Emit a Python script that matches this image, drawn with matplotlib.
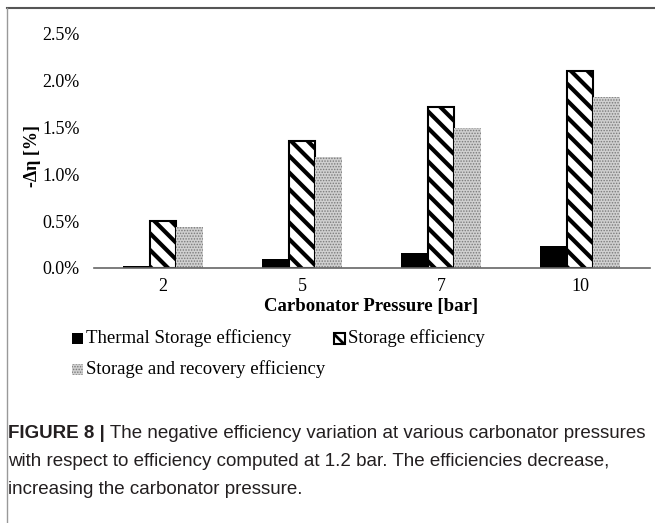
import matplotlib.pyplot as plt
from matplotlib.patches import Rectangle
from matplotlib.lines import Line2D
import numpy as np

pressures = ["2", "5", "7", "10"]
thermal = [0.02, 0.10, 0.16, 0.24]
storage = [0.50, 1.36, 1.72, 2.10]
recovery = [0.44, 1.19, 1.50, 1.83]
yticks = [0.0, 0.5, 1.0, 1.5, 2.0, 2.5]
series_names = ["Thermal Storage efficiency", "Storage efficiency",
                "Storage and recovery efficiency"]
caption_bold = "FIGURE 8 |"
caption_lines = [" The negative efficiency variation at various carbonator pressures",
                 "with respect to efficiency computed at 1.2 bar. The efficiencies decrease,",
                 "increasing the carbonator pressure."]

W, H = 655, 523
plt.rcParams['font.family'] = ['Liberation Serif', 'DejaVu Serif']
fig = plt.figure(figsize=(W / 100, H / 100), dpi=100)
ax = fig.add_axes([93.5 / W, 1 - 268 / H, 556 / W, 234 / H])

x = np.arange(len(pressures))
bw = 0.19
ax.bar(x - bw, thermal, bw, color='black', linewidth=0)

plt.rcParams['hatch.linewidth'] = 3.0
ax.bar(x, storage, bw, facecolor='white', edgecolor='black', linewidth=1.5,
       hatch='\\\\')
plt.rcParams['hatch.linewidth'] = 0.7
ax.bar(x + bw, recovery, bw, facecolor='#d0d0d0', edgecolor='#7a7a7a',
       linewidth=0, hatch='......')

ax.set_xlim(-0.5, 3.5)
ax.set_ylim(0, 2.5)
ax.set_xticks(x)
ax.set_xticklabels(pressures, fontsize=13)
ax.set_yticks(yticks)
ax.set_yticklabels([f"{v:.1f}%" for v in yticks], fontsize=13)
ax.tick_params(axis='both', length=0)
ax.tick_params(axis='y', pad=10)
ax.tick_params(axis='x', pad=7)
for s in ['top', 'right', 'left']:
    ax.spines[s].set_visible(False)
ax.spines['bottom'].set_color('#666666')
ax.spines['bottom'].set_linewidth(1.2)

ax.set_xlabel("Carbonator Pressure [bar]", fontsize=13.5, fontweight='bold')
ax.xaxis.set_label_coords(0.5, -(306 - 268) / 234)
ax.xaxis.label.set_va('center')
ax.set_ylabel("-Δη [%]", fontsize=13, fontweight='bold')
ax.yaxis.set_label_coords(-(93.5 - 41) / 556, 0.48)

# legend drawn by hand, two columns as in the original layout
def legend_item(px, py, kind, label):
    sz = 11
    xy = (px / W, 1 - (py + sz / 2) / H)
    if kind == 0:
        r = Rectangle(xy, sz / W, sz / H, transform=fig.transFigure,
                      facecolor='black', linewidth=0)
    elif kind == 1:
        plt.rcParams['hatch.linewidth'] = 2.0
        r = Rectangle(xy, sz / W, sz / H, transform=fig.transFigure,
                      facecolor='white', edgecolor='black', linewidth=1.5,
                      hatch='\\\\')
    else:
        plt.rcParams['hatch.linewidth'] = 0.7
        r = Rectangle(xy, sz / W, sz / H, transform=fig.transFigure,
                      facecolor='#d0d0d0', edgecolor='#7a7a7a', linewidth=0,
                      hatch='......')
    fig.patches.append(r)
    fig.text((px + sz + 3) / W, 1 - py / H, label, fontsize=13.5,
             va='center', ha='left')

legend_item(72, 338, 0, series_names[0])
legend_item(334, 338, 1, series_names[1])
legend_item(72, 369, 2, series_names[2])

# caption
cap_font = ['Liberation Sans', 'DejaVu Sans']
cap_color = '#231f20'
cap_size = 13.5
t = fig.text(8 / W, 1 - 433 / H, caption_bold, fontsize=cap_size,
             fontweight='bold', family=cap_font, color=cap_color,
             va='center', ha='left')
fig.canvas.draw()
bb = t.get_window_extent()
fig.text(bb.x1 / W, 1 - 433 / H, caption_lines[0], fontsize=cap_size,
         family=cap_font, color=cap_color, va='center', ha='left')
fig.text(8 / W, 1 - 461 / H, caption_lines[1], fontsize=cap_size,
         family=cap_font, color=cap_color, va='center', ha='left')
fig.text(8 / W, 1 - 489 / H, caption_lines[2], fontsize=cap_size,
         family=cap_font, color=cap_color, va='center', ha='left')

# frame of the figure panel
fig.add_artist(Line2D([7 / W, 1], [1 - 8 / H, 1 - 8 / H], color='#555555',
                      linewidth=1.5, transform=fig.transFigure))
fig.add_artist(Line2D([7 / W, 7 / W], [0, 1 - 8 / H], color='#999999',
                      linewidth=1.0, transform=fig.transFigure))

fig.savefig("out.png", dpi=100)
